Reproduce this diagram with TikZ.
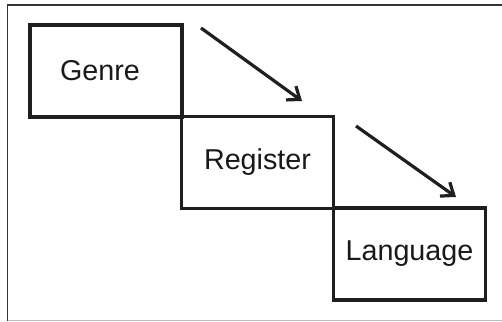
\documentclass[tikz,border=0pt]{standalone}
\usepackage{fontspec}
\setmainfont{Liberation Sans}
\usetikzlibrary{arrows.meta}
\begin{document}
\begin{tikzpicture}[x=1pt,y=-1pt,
  level/.style={draw=black!88, line width=3.2pt, minimum width=152pt, minimum height=92pt,
    inner sep=0pt, font=\fontsize{28.7}{34}\selectfont, text=black!90},
  flow/.style={draw=black!88, line width=3.2pt,
    -{Straight Barb[length=11pt,width=17pt,line width=3.2pt]}}]
  \useasboundingbox (0,0) rectangle (502,321);
  % page frame
  \draw[black!80, line width=1.3pt] (502,5) -- (7.5,5) -- (7.5,320.5);
  \draw[black!25, line width=1.2pt] (7.5,320.5) -- (502,320.5);
  % the three stacked levels
  \node[level] (genre) at (106,71) {\hspace*{-12pt}Genre};
  \node[level] (register) at (257.5,162.5) {Register};
  \node[level] (language) at (409.5,254) {Language};
  % arrows between the levels
  \coordinate (a1s) at (201,28);
  \coordinate (a1e) at (302,101);
  \coordinate (a2s) at (356,126);
  \coordinate (a2e) at (456,197);
  \draw[flow] (a1s) -- (a1e);
  \draw[flow] (a2s) -- (a2e);
\end{tikzpicture}
\end{document}
